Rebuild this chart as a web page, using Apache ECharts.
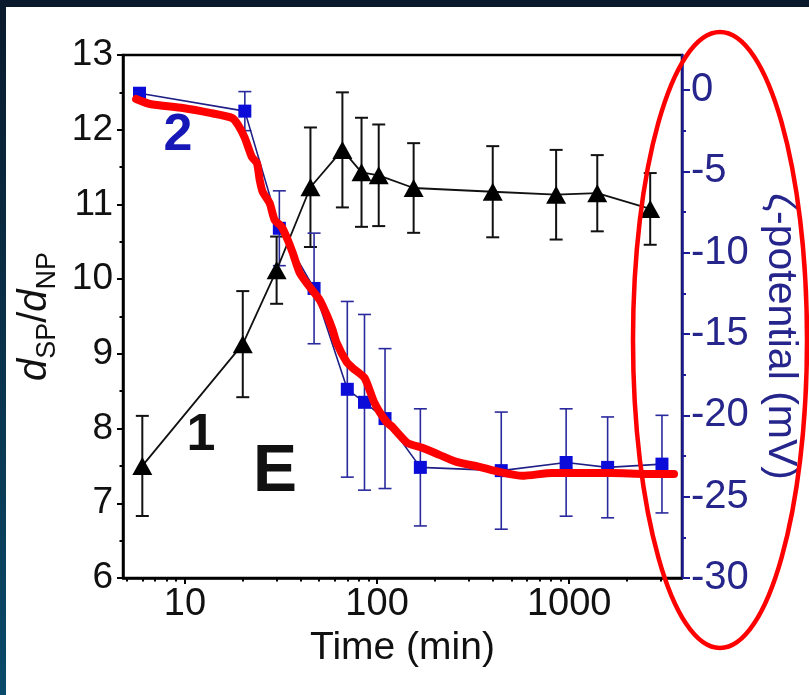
<!DOCTYPE html>
<html><head><meta charset="utf-8">
<script src="https://cdn.jsdelivr.net/npm/echarts@6/dist/echarts.min.js"></script>
<style>html,body{margin:0;padding:0;background:#fff;} #c{width:809px;height:695px;}</style>
</head><body><div id="c"></div>
<script>
// ---- data ----
const xLabelTicks = [10, 100, 1000];
const xMinorTicks = [5, 6, 7, 8, 9, 20, 30, 40, 50, 60, 70, 80, 90, 200, 300, 400, 500, 600, 700, 800, 900, 2000, 3000];
const rightTicks = [-30, -25, -20, -15, -10, -5, 0];
const rightMinorTicks = [-27.5, -22.5, -17.5, -12.5, -7.5, -2.5];

const ratioTime  = [6, 20, 30, 45, 66, 83, 102, 155, 400, 855, 1400, 2640];
const ratioValue = [7.50, 9.13, 10.12, 11.23, 11.73, 11.43, 11.39, 11.22, 11.17, 11.13, 11.15, 10.94];
const ratioError = [0.67, 0.71, 0.45, 0.80, 0.77, 0.73, 0.68, 0.60, 0.61, 0.60, 0.51, 0.48];

const zetaTime  = [5.8, 20.5, 31, 47, 70, 86, 110, 168, 443, 964, 1585, 3040];
const zetaValue = [-0.2, -1.3, -8.5, -12.2, -18.4, -19.2, -20.2, -23.2, -23.4, -22.9, -23.2, -23.0];
const zetaError = [0, 1.2, 2.3, 3.4, 5.4, 5.4, 4.3, 3.6, 3.6, 3.3, 3.1, 3.0];

const redTime  = [5.57, 6.58, 9.76, 13.5, 17.6, 18.9, 20.5, 22.3, 23.7, 24.5, 25.4, 27.6, 29.3, 31.9, 34.3, 36.4, 39.6, 44.6, 50.3, 54.7, 58.7, 61.6, 69.4, 74.6, 86.1, 97, 112, 120, 144, 172, 211, 259, 341, 433, 570, 816, 1127, 1673, 2512, 3513];
const redValue = [-0.55, -0.86, -1.11, -1.41, -1.72, -2.15, -2.95, -4.12, -4.49, -5.53, -6.27, -6.95, -7.99, -8.42, -9.22, -10.02, -11.25, -12.11, -12.91, -13.83, -14.75, -15.55, -16.72, -17.09, -17.70, -19.24, -20.41, -20.71, -21.70, -22.00, -22.43, -22.86, -23.17, -23.48, -23.72, -23.54, -23.54, -23.54, -23.60, -23.60];

// ---- chart ----
const FONT = "'Liberation Sans', Arial, sans-serif";
const BLUE_AXIS = '#1c1c96';
const chart = echarts.init(document.getElementById('c'));

function errorSeries(name, times, values, errors, yAxisIndex, color, width, capHalf) {
  const data = [];
  times.forEach((t, i) => { if (errors[i] > 0) data.push([t, values[i] - errors[i], values[i] + errors[i]]); });
  return {
    type: 'custom', name: name, xAxisIndex: 0, yAxisIndex: yAxisIndex, data: data,
    encode: { x: 0, y: [1, 2] }, z: 2, silent: true,
    renderItem: function (params, api) {
      const lo = api.coord([api.value(0), api.value(1)]);
      const hi = api.coord([api.value(0), api.value(2)]);
      const style = { stroke: color, lineWidth: width, fill: null };
      return { type: 'group', children: [
        { type: 'line', shape: { x1: lo[0], y1: lo[1], x2: hi[0], y2: hi[1] }, style: style },
        { type: 'line', shape: { x1: lo[0] - capHalf, y1: lo[1], x2: lo[0] + capHalf, y2: lo[1] }, style: style },
        { type: 'line', shape: { x1: hi[0] - capHalf, y1: hi[1], x2: hi[0] + capHalf, y2: hi[1] }, style: style }
      ]};
    }
  };
}

const xMin = 4.76, xMax = 3865;
const option = {
  animation: false,
  backgroundColor: '#ffffff',
  textStyle: { fontFamily: FONT },
  grid: { left: 123, right: 127, top: 55, bottom: 117, containLabel: false, outerBoundsMode: 'none',
          show: true, borderColor: '#000', borderWidth: 2.5, backgroundColor: 'transparent' },
  xAxis: [
    { type: 'log', min: xMin, max: xMax, position: 'bottom',
      axisLine: { show: true, onZero: false, lineStyle: { color: '#000', width: 2.5 } },
      axisTick: { show: true, inside: false, length: 6, lineStyle: { color: '#000', width: 2 }, customValues: xLabelTicks },
      axisLabel: { show: true, customValues: xLabelTicks, fontSize: 38, color: '#111', margin: 8, fontFamily: FONT,
                   formatter: function (v) { return String(Math.round(v)); } },
      splitLine: { show: false }, minorTick: { show: false },
      name: 'Time (min)', nameLocation: 'middle', nameGap: 42,
      nameTextStyle: { fontSize: 39, color: '#111', fontFamily: FONT } },
    { type: 'log', min: xMin, max: xMax, position: 'bottom',
      axisLine: { show: false, onZero: false },
      axisTick: { show: true, inside: false, length: 3.5, lineStyle: { color: '#000', width: 2 }, customValues: xMinorTicks },
      axisLabel: { show: false }, splitLine: { show: false } }
  ],
  yAxis: [
    { type: 'value', min: 6, max: 13, interval: 1, position: 'left',
      axisLine: { show: true, onZero: false, lineStyle: { color: '#000', width: 2.5 } },
      axisTick: { show: true, inside: false, length: 6, lineStyle: { color: '#000', width: 2 } },
      minorTick: { show: true, splitNumber: 2, length: 3.5, lineStyle: { color: '#000', width: 2 } },
      axisLabel: { fontSize: 37, color: '#111', margin: 10, fontFamily: FONT },
      splitLine: { show: false },
      name: '{i|d}{s|SP}{n|/}{i|d}{s|NP}', nameLocation: 'middle', nameGap: 60,
      nameTextStyle: { color: '#111', fontFamily: FONT,
        rich: {
          i: { fontStyle: 'italic', fontSize: 40, lineHeight: 52, color: '#111', fontFamily: FONT },
          n: { fontSize: 40, lineHeight: 52, color: '#111', fontFamily: FONT },
          s: { fontSize: 27, lineHeight: 27, verticalAlign: 'bottom', color: '#111', fontFamily: FONT }
        } } },
    { type: 'value', min: -30, max: 2.15, position: 'right',
      axisLine: { show: true, onZero: false, lineStyle: { color: BLUE_AXIS, width: 2.5 } },
      axisTick: { show: true, inside: false, length: 8, lineStyle: { color: BLUE_AXIS, width: 2 }, customValues: rightTicks },
      axisLabel: { customValues: rightTicks, fontSize: 40, color: '#25258c', margin: 9, fontFamily: FONT,
                   formatter: function (v) { return String(Math.round(v)); } },
      splitLine: { show: false },
      name: 'ζ-potential (mV)', nameLocation: 'middle', nameRotate: -90, nameGap: 62,
      nameTextStyle: { fontSize: 41, color: '#25258c', fontFamily: FONT, padding: [0, 0, 0, 40] } },
    { type: 'value', min: -30, max: 2.15, position: 'right',
      axisLine: { show: false, onZero: false },
      axisTick: { show: true, inside: false, length: 4, lineStyle: { color: BLUE_AXIS, width: 2 }, customValues: rightMinorTicks },
      axisLabel: { show: false }, splitLine: { show: false } }
  ],
  graphic: [
    { type: 'rect', left: 0, top: 0, shape: { width: 809, height: 7 }, style: { fill: '#0a1a2c' }, z: 100 },
    { type: 'rect', left: 0, top: 0, shape: { width: 6, height: 695 },
      style: { fill: new echarts.graphic.LinearGradient(0, 0, 0, 1, [
        { offset: 0, color: '#0a1a2c' }, { offset: 1, color: '#0a4a6a' }]) }, z: 100 },
    { type: 'text', x: 178, y: 136, z: 50,
      style: { text: '2', fill: '#1717b8', font: 'bold 52px ' + FONT, textAlign: 'center', textVerticalAlign: 'middle' } },
    { type: 'text', x: 201, y: 436, z: 50,
      style: { text: '1', fill: '#111', font: 'bold 52px ' + FONT, textAlign: 'center', textVerticalAlign: 'middle' } },
    { type: 'text', x: 275, y: 473, z: 50,
      style: { text: 'E', fill: '#111', font: 'bold 66px ' + FONT, textAlign: 'center', textVerticalAlign: 'middle' } },
    { type: 'ellipse', z: 60, shape: { cx: 720, cy: 340, rx: 87, ry: 308 },
      style: { fill: null, stroke: '#ff0000', lineWidth: 4.5 } }
  ],
  series: [
    errorSeries('ratioErr', ratioTime, ratioValue, ratioError, 0, '#111', 2, 6.5),
    errorSeries('zetaErr', zetaTime, zetaValue, zetaError, 1, '#2a2a9e', 1.6, 6.5),
    { type: 'line', name: 'zeta', xAxisIndex: 0, yAxisIndex: 1, z: 4,
      data: zetaTime.map((t, i) => [t, zetaValue[i]]),
      symbol: 'rect', symbolSize: 13, showSymbol: true,
      itemStyle: { color: '#0c0cd8' }, lineStyle: { color: '#1f1f86', width: 1.6 } },
    { type: 'line', name: 'ratio', xAxisIndex: 0, yAxisIndex: 0, z: 5,
      data: ratioTime.map((t, i) => [t, ratioValue[i]]),
      symbol: 'triangle', symbolSize: [20, 18], showSymbol: true,
      itemStyle: { color: '#000' }, lineStyle: { color: '#111', width: 1.8 } },
    { type: 'line', name: 'trend', xAxisIndex: 0, yAxisIndex: 1, z: 10,
      data: redTime.map((t, i) => [t, redValue[i]]),
      symbol: 'none', smooth: 0.2,
      lineStyle: { color: '#ff0000', width: 8, cap: 'round', join: 'round' } }
  ]
};
chart.setOption(option);
</script></body></html>
